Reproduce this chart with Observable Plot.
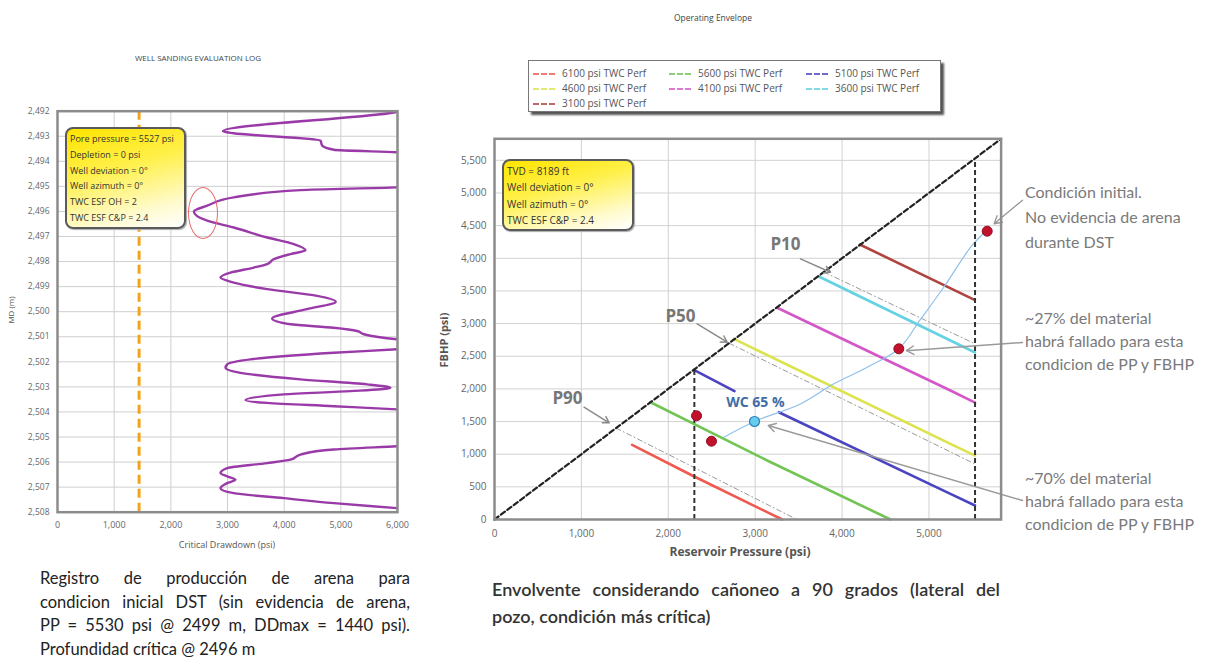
<!DOCTYPE html>
<html><head><meta charset="utf-8">
<script src="https://cdn.jsdelivr.net/npm/d3@7"></script>
<script src="https://cdn.jsdelivr.net/npm/@observablehq/plot@0.6"></script>
<style>
body{margin:0;background:#fff;}
#root{position:relative;width:1210px;height:671px;overflow:hidden;background:#fff;font-family:"Open Sans",sans-serif;}
.abs{position:absolute;white-space:nowrap;}
.infobox{position:absolute;border:2px solid #5a5a5a;border-radius:8px;background:linear-gradient(165deg,#ffe400 0%,#fff04a 40%,#fffbd0 80%,#ffffff 100%);color:#333;box-shadow:1px 1px 1px #aaa;padding:2px 3px;box-sizing:border-box;}
.legend{position:absolute;border:1px solid #777;background:#fff;box-shadow:3px 3px 2px #555;box-sizing:border-box;}
.leg{position:absolute;font-size:10px;color:#555;white-space:nowrap;}
.leg span{display:inline-block;width:22px;border-top:2px dashed;vertical-align:middle;margin-right:7px;opacity:.8}
.cap{font-family:Lato,"Open Sans",sans-serif;color:#222;}
.jl{display:block;text-align:justify;text-align-last:justify;}
.note{position:absolute;font-family:Lato,"Open Sans",sans-serif;color:#7a7a7a;font-size:16px;white-space:nowrap;}
</style></head><body><div id="root"></div>
<script>
// ---------- Left chart data: WELL SANDING EVALUATION LOG ----------
const depthTicks = [2492,2493,2494,2495,2496,2497,2498,2499,2500,2501,2502,2503,2504,2505,2506,2507,2508];
const drawdownTicks = [0,1000,2000,3000,4000,5000,6000];
const logDepth = [2492.0,2492.08,2492.8,2492.88,2493.17,2493.37,2493.54,2493.64,2493.7,
  2494.95,2495.04,2495.15,2495.44,2495.77,2496.0,2496.37,2496.64,2497.04,2497.3,2497.55,2497.7,2497.9,2498.1,2498.24,2498.44,2498.64,2498.84,2499.1,2499.37,2499.6,2499.9,2500.27,2500.5,2500.64,2500.77,2500.9,2501.1,2501.2,
  2501.4,2501.5,2501.64,2501.9,2502.1,2502.24,2502.44,2502.7,2502.9,2503.04,2503.17,2503.3,2503.53,2503.64,2503.77,2503.9,2504.0,
  2505.3,2505.37,2505.5,2505.7,2505.9,2506.04,2506.24,2506.44,2506.57,2506.7,2506.84,2507.04,2507.24,2507.44,2507.64,2507.84,2507.95];
const logDrawdown = [6100,5850,2920,3110,4640,4670,4876,6000,6600,
  6600,6000,4288,3111,2641,2406,2641,3111,3700,4170,4376,4112,3818,3700,3465,3053,2876,3111,3700,4582,4910,4400,3788,4112,4876,5288,5406,6000,6600,
  6600,6000,4876,3406,2994,2965,3229,4288,5465,5876,5170,3993,3318,3700,4876,6000,6600,
  6600,6000,4876,4288,4112,3700,2994,2876,2994,3141,2994,2876,3111,3993,4876,6000,6600];
const ddMax = 1440;
const leftInfo = ["Pore pressure = 5527 psi","Depletion = 0 psi","Well deviation = 0°","Well azimuth = 0°","TWC ESF OH = 2","TWC ESF C&P = 2.4"];

// ---------- Right chart data: Operating Envelope ----------
const pressureTicks = [0,1000,2000,3000,4000,5000];
const fbhpTicks = [0,500,1000,1500,2000,2500,3000,3500,4000,4500,5000,5500];
const seriesNames = ["6100 psi TWC Perf","5600 psi TWC Perf","5100 psi TWC Perf","4600 psi TWC Perf","4100 psi TWC Perf","3600 psi TWC Perf","3100 psi TWC Perf"];
const seriesColors = ["#ef5a50","#72c455","#4a44c0","#dde34e","#d457c8","#64d2e2","#b0443f"];
const perf6100 = [[1584,1144],[2275,674],[3311,0]];
const perf5600 = [[1795,1796],[3138,904],[4557,0]];
const perf5100a = [[2294,2292],[2762,1965]];
const perf5100b = [[3272,1643],[5247,393],[5530,214]];
const perf4600 = [[2754,2767],[5247,1159],[5530,978]];
const perf4100 = [[3253,3242],[5247,1975],[5530,1790]];
const perf3600 = [[3732,3721],[5247,2741],[5530,2558]];
const perf3100 = [[4204,4211],[5524,3364]];
const p10Line = [[3790,3790],[5530,2690]];
const p50Line = [[2700,2700],[5530,850]];
const p90Line = [[1400,1400],[3480,0]];
const diagonal = [[0,0],[5830,5830]];
const ppLines = [2300,5530];
const wcPath = [[2640,1260],[2992,1501],[3520,1770],[3905,2078],[4290,2332],[4653,2614],[4900,3060],[5170,3557],[5480,4170],[5650,4410]];
const redDots = [[5670,4415],[4653,2614],[2325,1588],[2497,1199]];
const wcDot = [[2992,1501]];
const pLabels = [["P10",3349,4211],["P50",2140,3109],["P90",840,1850]];
const pArrows = [[3521,3992,3867,3787],[2332,2997,2678,2716],[1030,1720,1320,1480]];
const noteArrows = [[6076,4890,5750,4530],[6076,2711,4740,2585],[6076,291,3150,1440]];
const rightInfo = ["TVD = 8189 ft","Well deviation = 0°","Well azimuth = 0°","TWC ESF C&P = 2.4"];

const root = document.getElementById("root");
function addDiv(cls, style, html){const d=document.createElement("div");d.className=cls;d.setAttribute("style",style);d.innerHTML=html;root.appendChild(d);return d;}

// ---------- Left plot ----------
const logData = logDepth.map((d,i)=>({depth:d, psi:logDrawdown[i]}));
const left = Plot.plot({
  width: 425, height: 560,
  marginLeft: 57, marginRight: 28, marginTop: 110.7, marginBottom: 48.3,
  style: {fontFamily:"Open Sans", fontSize:"9px", color:"#666", background:"transparent"},
  x: {domain:[0,6000]},
  y: {domain:[2492,2508], reverse:true},
  marks: [
    Plot.gridX(drawdownTicks, {stroke:"#cfcfcf", strokeOpacity:1}),
    Plot.gridY(depthTicks, {stroke:"#cfcfcf", strokeOpacity:1}),
    Plot.ruleX([ddMax], {stroke:"#f2a31b", strokeWidth:3, strokeDasharray:"9,5"}),
    Plot.line(logData, {x:"psi", y:"depth", stroke:"#9a3aa8", strokeWidth:2.4, curve:"monotone-y", clip:true}),
    Plot.axisX({ticks:drawdownTicks, tickFormat:d3.format(","), tickSize:0, tickPadding:9, label:null, fontSize:9}),
    Plot.axisY({ticks:depthTicks, tickFormat:d3.format(","), tickSize:0, tickPadding:8, label:null, fontSize:8.5}),
    Plot.frame({stroke:"#8c8c8c", strokeWidth:2.5})
  ]
});
left.style.position="absolute"; left.style.left="0px"; left.style.top="0px";
root.appendChild(left);

addDiv("abs","left:198px;top:52px;transform:translateX(-50%);font-size:8px;color:#444;","WELL SANDING EVALUATION LOG");
addDiv("abs","left:227px;top:538px;transform:translateX(-50%);font-size:9px;color:#555;","Critical Drawdown (psi)");
addDiv("abs","left:10px;top:310px;transform:translate(-50%,-50%) rotate(-90deg);font-size:8px;color:#555;","MD (m)");
addDiv("infobox","left:65px;top:127px;width:121px;height:102px;font-size:9px;line-height:15.8px;", leftInfo.join("<br>"));
addDiv("abs","left:188px;top:187px;width:30px;height:52px;border:1.5px solid #e66a6a;border-radius:50%;box-sizing:border-box;","");

// ---------- Right plot ----------
const curveData = [];
const perfSets = [[perf6100,0,"a"],[perf5600,1,"a"],[perf5100a,2,"a"],[perf5100b,2,"b"],[perf4600,3,"a"],[perf4100,4,"a"],[perf3600,5,"a"],[perf3100,6,"a"]];
perfSets.forEach(([pts,k,seg])=>pts.forEach(([x,y])=>curveData.push({x,y,series:seriesNames[k],seg:seriesNames[k]+seg})));
const pData = [];
[[p10Line,"P10"],[p50Line,"P50"],[p90Line,"P90"]].forEach(([pts,n])=>pts.forEach(([x,y])=>pData.push({x,y,n})));
const toXY = a => a.map(([x,y])=>({x,y}));

const right = Plot.plot({
  width: 780, height: 580,
  marginLeft: 64, marginRight: 209.4, marginTop: 138.3, marginBottom: 61,
  style: {fontFamily:"Open Sans", fontSize:"10px", color:"#666", background:"transparent", overflow:"visible"},
  x: {domain:[0,5830]},
  y: {domain:[0,5830]},
  color: {domain: seriesNames, range: seriesColors},
  marks: [
    Plot.gridX(pressureTicks, {stroke:"#d2d2d2", strokeOpacity:1}),
    Plot.gridY(fbhpTicks, {stroke:"#d2d2d2", strokeOpacity:1}),
    Plot.line(pData, {x:"x", y:"y", z:"n", stroke:"#9a9a9a", strokeWidth:1, strokeDasharray:"5,3,1,3"}),
    Plot.line(curveData, {x:"x", y:"y", z:"seg", stroke:"series", strokeWidth:2.6}),
    Plot.line(toXY(wcPath), {x:"x", y:"y", stroke:"#8fc0ea", strokeWidth:1.2, curve:"catmull-rom"}),
    Plot.ruleX(ppLines, {x:d=>d, y1:0, y2:d=>d, stroke:"#333", strokeWidth:2, strokeDasharray:"5,3"}),
    Plot.line(toXY(diagonal), {x:"x", y:"y", stroke:"#222", strokeWidth:2.2, strokeDasharray:"5,3"}),
    Plot.arrow(pArrows, {x1:d=>d[0], y1:d=>d[1], x2:d=>d[2], y2:d=>d[3], stroke:"#8a8a8a", strokeWidth:1.5, headLength:7}),
    Plot.arrow(noteArrows, {x1:d=>d[0], y1:d=>d[1], x2:d=>d[2], y2:d=>d[3], stroke:"#9a9a9a", strokeWidth:1.4, headLength:9}),
    Plot.dot(toXY(redDots), {x:"x", y:"y", r:5, fill:"#c3102c", stroke:"#8a1020", strokeWidth:1}),
    Plot.dot(toXY(wcDot), {x:"x", y:"y", r:5, fill:"#66cdf0", stroke:"#2d7fb8", strokeWidth:1.2}),
    Plot.text(pLabels, {x:d=>d[1], y:d=>d[2], text:d=>d[0], fill:"#777", fontSize:17, fontWeight:"bold", fontFamily:"Open Sans"}),
    Plot.text(["WC 65 %"], {x:3003, y:1797, text:d=>d, fill:"#3f6ea6", fontSize:14, fontWeight:"bold", fontFamily:"Open Sans"}),
    Plot.axisX({ticks:pressureTicks, tickFormat:d3.format(","), tickSize:0, tickPadding:10, label:null, fontSize:10}),
    Plot.axisY({ticks:fbhpTicks, tickFormat:d3.format(","), tickSize:0, tickPadding:8, label:null, fontSize:10}),
    Plot.frame({stroke:"#8c8c8c", strokeWidth:2.5})
  ]
});
right.style.position="absolute"; right.style.left="430px"; right.style.top="0px";
root.appendChild(right);

addDiv("abs","left:713px;top:12px;transform:translateX(-50%);font-size:8.5px;color:#444;","Operating Envelope");
addDiv("abs","left:740px;top:543px;transform:translateX(-50%);font-size:12px;font-weight:bold;color:#555;","Reservoir Pressure (psi)");
addDiv("abs","left:443px;top:340px;transform:translate(-50%,-50%) rotate(-90deg);font-size:11px;font-weight:bold;color:#555;","FBHP (psi)");
addDiv("infobox","left:502px;top:159px;width:132px;height:72px;font-size:10px;line-height:16.3px;", rightInfo.join("<br>"));

// legend
addDiv("legend","left:528px;top:60px;width:413px;height:52px;","");
const colX = [533,669,806], rowY = [66,81,96];
seriesNames.forEach((n,i)=>{
  addDiv("leg",`left:${colX[i%3]}px;top:${rowY[Math.floor(i/3)]}px;`,`<span style="border-color:${seriesColors[i]}"></span>${n}`);
});

// right notes
addDiv("note","left:1025px;top:179px;line-height:25px;","Condición initial.<br>No evidencia de arena<br>durante DST");
addDiv("note","left:1025px;top:306px;line-height:23px;","~27% del material<br>habrá fallado para esta<br>condicion de PP y FBHP");
addDiv("note","left:1025px;top:466px;line-height:23px;","~70% del material<br>habrá fallado para esta<br>condicion de PP y FBHP");

// captions
addDiv("abs cap","left:40px;top:567px;width:370px;white-space:normal;font-size:16.5px;line-height:23.5px;",
  '<span class="jl">Registro de producción de arena para</span><span class="jl">condicion inicial DST (sin evidencia de arena,</span><span class="jl">PP = 5530 psi @ 2499 m, DDmax = 1440 psi).</span><span>Profundidad crítica @ 2496 m</span>');
addDiv("abs cap","left:492px;top:576px;width:508px;white-space:normal;font-size:18px;line-height:27px;color:#333;font-weight:600;",
  '<span class="jl">Envolvente considerando cañoneo a 90 grados (lateral del</span><span>pozo, condición más crítica)</span>');
</script></body></html>
